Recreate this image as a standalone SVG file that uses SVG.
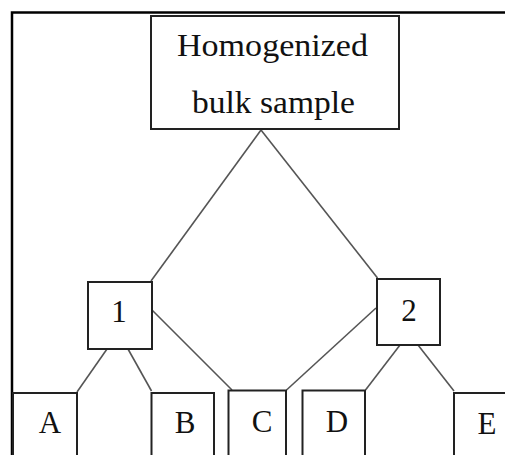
<svg xmlns="http://www.w3.org/2000/svg" width="505" height="455" viewBox="0 0 505 455">
<style>
.box{fill:#fff;stroke:#222;stroke-width:2}
.edge{stroke:#555;stroke-width:1.6;fill:none}
.frame{stroke:#000;stroke-width:2.5;fill:none}
.big{font-family:"Liberation Serif",serif;font-size:31px;fill:#111}
.lab{font-family:"Liberation Serif",serif;font-size:31px;fill:#111;text-anchor:middle}
</style>
<rect width="505" height="455" fill="#fff"/>
<path class="frame" d="M12,455 V12.5 H505"/>
<g id="connectors">
<line class="edge" x1="261" y1="130" x2="151" y2="281"/>
<line class="edge" x1="261" y1="130" x2="377.5" y2="278"/>
<line class="edge" x1="152" y1="310" x2="232" y2="390"/>
<line class="edge" x1="376" y1="308" x2="286.5" y2="390"/>
<line class="edge" x1="107" y1="349" x2="77" y2="392"/>
<line class="edge" x1="128" y1="349" x2="151.5" y2="391"/>
<line class="edge" x1="400" y1="345" x2="365.5" y2="390"/>
<line class="edge" x1="418" y1="345" x2="454" y2="391"/>
</g>
<g id="top">
<rect class="box" x="151" y="16" width="248" height="113"/>
<text class="big" x="177" y="56" textLength="191" lengthAdjust="spacingAndGlyphs">Homogenized</text>
<text class="big" x="192" y="113" textLength="163" lengthAdjust="spacingAndGlyphs">bulk sample</text>
</g>
<g id="n1">
<rect class="box" x="88" y="282" width="64" height="67"/>
<text class="lab" x="119" y="322">1</text>
</g>
<g id="n2">
<rect class="box" x="377" y="279" width="63" height="66"/>
<text class="lab" x="409" y="321">2</text>
</g>
<g id="nA">
<path class="box" d="M13,456 V393 H77 V456"/>
<text class="lab" x="50" y="433">A</text>
</g>
<g id="nB">
<path class="box" d="M151.5,456 V393 H214 V456"/>
<text class="lab" x="185" y="433">B</text>
</g>
<g id="nC">
<path class="box" d="M228.5,456 V390.5 H286 V456"/>
<text class="lab" x="262" y="432">C</text>
</g>
<g id="nD">
<path class="box" d="M302.5,456 V390.5 H365 V456"/>
<text class="lab" x="337" y="432">D</text>
</g>
<g id="nE">
<path class="box" d="M454,456 V393 H506"/>
<text class="lab" x="487" y="434">E</text>
</g>
</svg>
